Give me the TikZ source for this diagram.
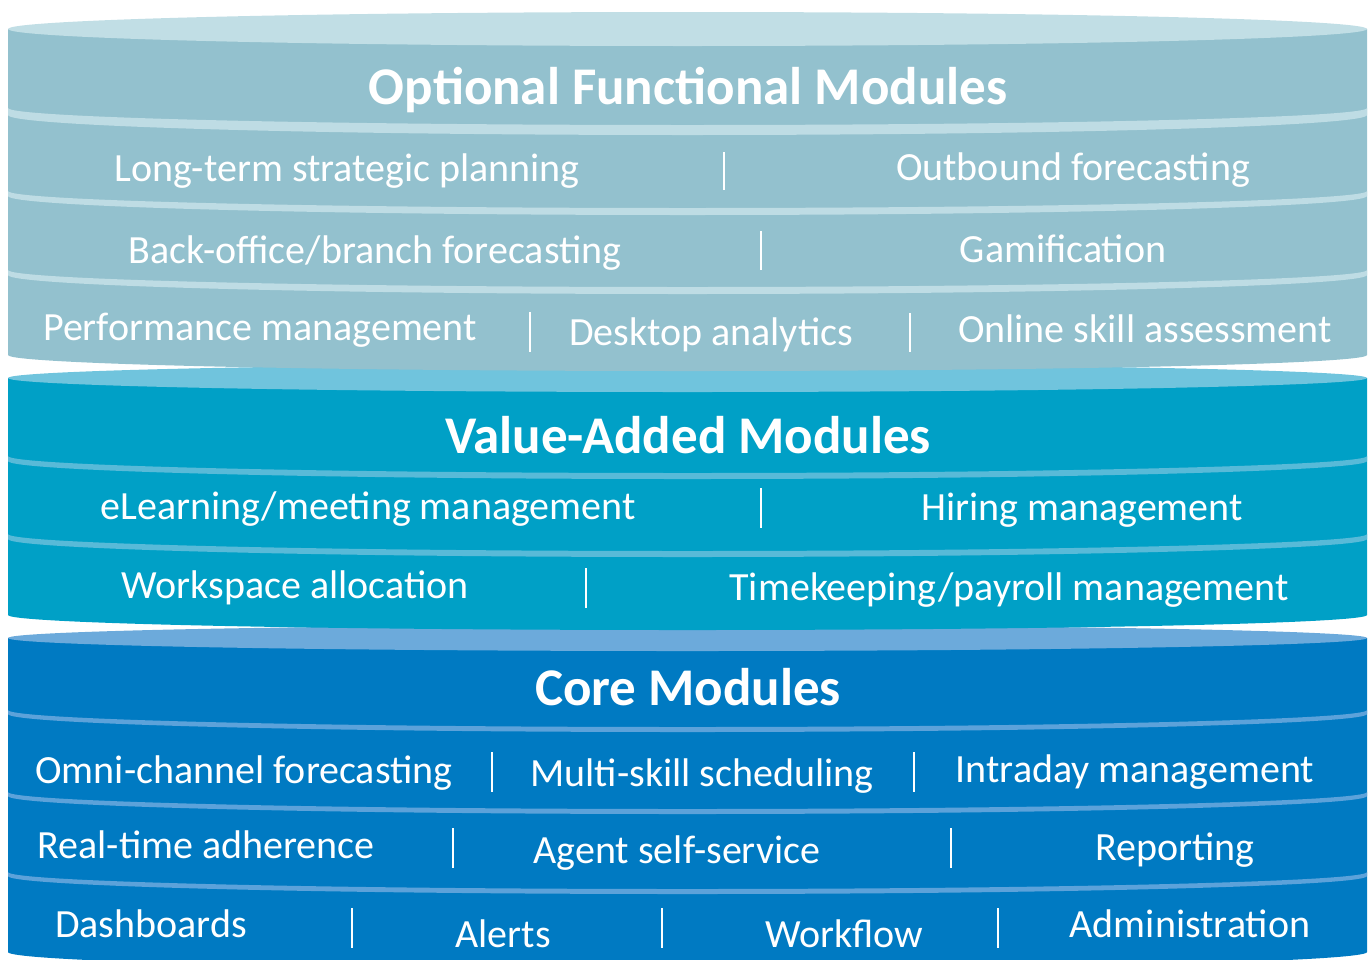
\documentclass[tikz,border=0pt]{standalone}
\usepackage{fontspec}
\setmainfont{Carlito}

% layer colours
\definecolor{optBody}{RGB}{147,193,206}
\definecolor{optLid}{RGB}{193,222,229}
\definecolor{optSep}{RGB}{190,220,228}
\definecolor{valBody}{RGB}{0,160,198}
\definecolor{valLid}{RGB}{112,196,221}
\definecolor{valSep}{RGB}{88,186,216}
\definecolor{coreBody}{RGB}{0,122,194}
\definecolor{coreLid}{RGB}{108,170,219}
\definecolor{coreSep}{RGB}{92,162,218}

% a light curved band across a layer:
% #1 colour, #2 y of upper edge at the sides, #3 thickness at the sides, #4 thickness in the middle
\newcommand\sepband[4]{%
  \fill[#1] (8,#2) -- (8,#2+#3)
    arc[start angle=180,end angle=360,x radius=679.5pt,y radius={(17+#4-#3)*1pt}]
    -- (1367,#2)
    arc[start angle=360,end angle=180,x radius=679.5pt,y radius=17pt] -- cycle;}

% body of a cylinder: #1 colour, #2 y of lid centre, #3 y of lower rim at the sides, #4 sag of lower rim
\newcommand\drumbody[4]{%
  \fill[#1] (8,#2) -- (8,#3)
    arc[start angle=180,end angle=360,x radius=679.5pt,y radius={#4*1pt}]
    -- (1367,#2) -- cycle;}

\tikzset{
  item/.style={text=white, font=\fontsize{40}{40}\selectfont, anchor=base, inner sep=0pt},
  head/.style={text=white, font=\fontsize{53}{53}\selectfont\bfseries, anchor=base, inner sep=0pt},
  bar/.style={white, line width=2.6pt}
}

\begin{document}
\begin{tikzpicture}[x=1pt,y=-1pt]
\useasboundingbox (0,0) rectangle (1372,959);
\clip (0,0) rectangle (1372,959);

% ---- core modules (lowest drum)
\drumbody{coreBody}{638}{952}{17}
\sepband{coreSep}{710}{4}{5}
\sepband{coreSep}{792}{4}{5}
\sepband{coreSep}{872}{4}{5}
\fill[coreLid] (687.5,638) ellipse[x radius=679.5pt, y radius=13pt];

% ---- value-added modules
\drumbody{valBody}{378}{615}{15}
\sepband{valSep}{456}{5}{6}
\sepband{valSep}{534}{5}{6}
\fill[valLid] (687.5,378) ellipse[x radius=679.5pt, y radius=14pt];

% ---- optional functional modules (top drum)
\drumbody{optBody}{29}{355}{16}
\sepband{optSep}{108}{7}{10}
\sepband{optSep}{191}{5}{7}
\sepband{optSep}{270}{5}{7}
\fill[optLid] (687.5,29) ellipse[x radius=679.5pt, y radius=17pt];

% ---- texts of the top drum
\node[head] (optHead) at (688,104) {Optional Functional Modules};
\node[item] (t1a) at (347,181) {Long-term strategic planning};
\node[item] (t1b) at (1073,180) {Outbound forecasting};
\node[item] (t2a) at (375,263) {Back-office/branch forecasting};
\node[item] (t2b) at (1063,262) {Gamification};
\node[item] (t3a) at (260,340) {Performance management};
\node[item] (t3b) at (711,345) {Desktop analytics};
\node[item] (t3c) at (1145,342) {Online skill assessment};
\draw[bar] (724,152) -- (724,190);
\draw[bar] (761,231) -- (761,270);
\draw[bar] (530,312) -- (530,352);
\draw[bar] (910,313) -- (910,352);

% ---- texts of the middle drum
\node[head] (valHead) at (688,453) {Value-Added Modules};
\node[item] (m1a) at (368,519) {eLearning/meeting management};
\node[item] (m1b) at (1082,520) {Hiring management};
\node[item] (m2a) at (295,598) {Workspace allocation};
\node[item] (m2b) at (1009,600) {Timekeeping/payroll management};
\draw[bar] (761,488) -- (761,528);
\draw[bar] (586,568) -- (586,608);

% ---- texts of the lowest drum
\node[head] (coreHead) at (688,705) {Core Modules};
\node[item] (b1a) at (244,783) {Omni-channel forecasting};
\node[item] (b1b) at (702,786) {Multi-skill scheduling};
\node[item] (b1c) at (1135,782) {Intraday management};
\node[item] (b2a) at (206,858) {Real-time adherence};
\node[item] (b2b) at (677,863) {Agent self-service};
\node[item] (b2c) at (1175,860) {Reporting};
\node[item] (b3a) at (151,937) {Dashboards};
\node[item] (b3b) at (503,947) {Alerts};
\node[item] (b3c) at (844,947) {Workflow};
\node[item] (b3d) at (1190,937) {Administration};
\draw[bar] (492,752) -- (492,792);
\draw[bar] (914,752) -- (914,792);
\draw[bar] (453,828) -- (453,868);
\draw[bar] (951,828) -- (951,868);
\draw[bar] (352,908) -- (352,948);
\draw[bar] (662,908) -- (662,948);
\draw[bar] (998,908) -- (998,948);
\end{tikzpicture}
\end{document}
